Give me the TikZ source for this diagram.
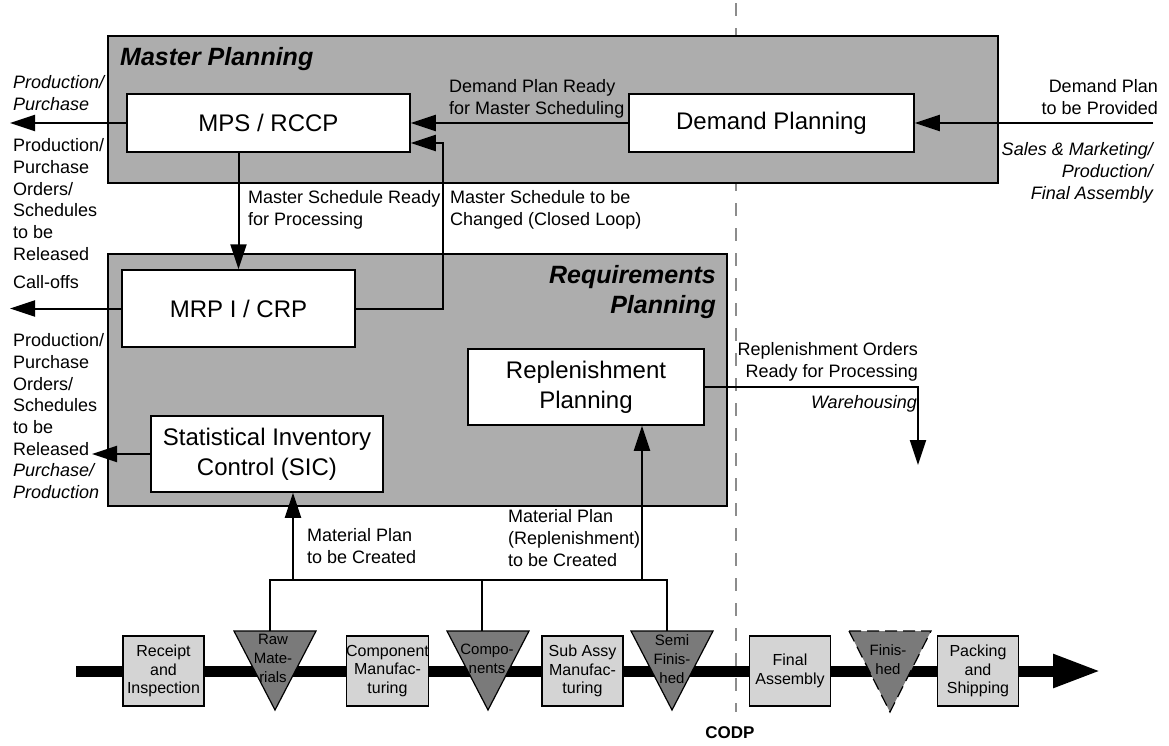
\documentclass[tikz,border=0pt]{standalone}
\usepackage{fontspec}
\setmainfont{Liberation Sans}
\usetikzlibrary{arrows.meta}

\tikzset{
  plan/.style={draw, line width=1.5pt, fill=black!32, inner sep=0pt, anchor=north west},
  func/.style={draw, line width=1.5pt, fill=white, inner sep=0pt, align=center,
    font=\fontsize{24}{30}\selectfont},
  lbl/.style={inner sep=0pt, align=left, anchor=north west, font=\fontsize{18}{21.7}\selectfont},
  rlbl/.style={inner sep=0pt, align=right, anchor=north east, font=\fontsize{18}{21.7}\selectfont},
  ttl/.style={inner sep=0pt, font=\fontsize{25}{30}\selectfont\bfseries\itshape},
  flow/.style={line width=2pt, -{Triangle[length=25pt,width=16pt]}},
  link/.style={line width=2pt},
  proc/.style={draw, line width=1.2pt, fill=black!17, inner sep=0pt,
    minimum width=81pt, minimum height=70pt, align=center,
    font=\fontsize{16}{18.5}\selectfont},
  stock/.style={draw, line width=1.2pt, fill=black!52},
  stocklbl/.style={inner sep=0pt, align=center, font=\fontsize{15}{19}\selectfont},
  codp/.style={draw=black!45, line width=2pt, dash pattern=on 13pt off 12pt},
}

\begin{document}
\begin{tikzpicture}[x=1pt, y=-1pt]
\useasboundingbox (0,0) rectangle (1169,745);
\fill[white] (0,0) rectangle (1169,745);

% customer order decoupling point
\coordinate (codpT) at (736,3);
\coordinate (codpB) at (736,712);
\draw[codp] (codpT) -- (codpB);
\node[inner sep=0pt, font=\fontsize{17}{20}\selectfont\bfseries] (codp) at (730,733) {CODP};

% planning areas
\node[plan, minimum width=890pt, minimum height=147pt] (mp) at (107,35) {};
\node[plan, minimum width=619pt, minimum height=252pt] (rp) at (107,253) {};
\node[ttl, anchor=north west] (mpt) at (120,47) {Master Planning};
\node[ttl, anchor=north east, align=right] (rpt) at (716,265) {Requirements\\Planning};

% planning functions
\node[func, minimum width=283pt, minimum height=58pt] (mps) at (268.5,123) {MPS / RCCP};
\node[func, minimum width=285pt, minimum height=58pt] (dem) at (771.5,123) {Demand Planning};
\node[func, minimum width=233pt, minimum height=77pt] (mrp) at (238.5,308.5) {MRP I / CRP};
\node[func, minimum width=232pt, minimum height=76pt] (sic) at (267,454) {Statistical Inventory\\Control (SIC)};
\node[func, minimum width=236pt, minimum height=76pt] (rep) at (586,387) {Replenishment\\Planning};

% helper points
\coordinate (outL) at (10,0);
\coordinate (sicout) at (92,0);
\coordinate (loopc) at (443,143);
\coordinate (dinput) at (1153,123);
\coordinate (whs) at (918,465);
\coordinate (busL) at (270,580);
\coordinate (busR) at (667,580);
\coordinate (sicfeed) at (293,580);
\coordinate (repfeed) at (642,580);
\coordinate (rawtop) at (270,631);
\coordinate (comptop) at (482,631);
\coordinate (semitop) at (667,631);

% information flows
\draw[flow] (dinput) -- (dem.east);
\draw[flow] (dem.west) -- (mps.east);
\draw[flow] (mps.west) -- (outL |- mps.west);
\draw[flow] (mrp.north |- mps.south) -- (mrp.north);
\draw[flow] (mrp.east) -| (loopc) -- (loopc -| mps.east);
\draw[flow] (mrp.west) -- (outL |- mrp.west);
\draw[flow] (sic.west) -- (sicout |- sic.west);
\draw[flow] (rep.east) -| (whs);
\draw[link] (rawtop) -- (busL) -- (busR) -- (semitop);
\draw[link] (comptop) -- (comptop |- busL);
\draw[flow] (sicfeed) -- (sicfeed |- sic.south);
\draw[flow] (repfeed) -- (repfeed |- rep.south);

% flow labels
\node[lbl] (l1) at (13,75.5) {\itshape Production/\\\itshape Purchase};
\node[lbl] (l2) at (13,138.5) {Production/\\Purchase\\Orders/\\Schedules\\to be\\Released};
\node[lbl] (l3) at (13,275.5) {Call-offs};
\node[lbl] (l4) at (13,333.5) {Production/\\Purchase\\Orders/\\Schedules\\to be\\Released\\{\itshape Purchase/}\\{\itshape Production}};
\node[lbl] (l5) at (248,190.5) {Master Schedule Ready\\for Processing};
\node[lbl] (l6) at (450,190.5) {Master Schedule to be\\Changed (Closed Loop)};
\node[lbl] (l7) at (449,79.5) {Demand Plan Ready\\for Master Scheduling};
\node[rlbl] (l8) at (1158,79.5) {Demand Plan\\to be Provided};
\node[rlbl] (l9) at (1153,142.5) {\itshape Sales \& Marketing/\\\itshape Production/\\\itshape Final Assembly};
\node[rlbl] (l10) at (918,342.5) {Replenishment Orders\\Ready for Processing};
\node[rlbl] (l11) at (917,395.5) {\itshape Warehousing};
\node[lbl] (l12) at (307,528.5) {Material Plan\\to be Created};
\node[lbl] (l13) at (508,509.5) {Material Plan\\(Replenishment)\\to be Created};

% physical material flow
\coordinate (barL) at (76,671);
\coordinate (barR) at (1101,671);
\draw[line width=11pt, -{Triangle[length=48pt,width=31pt]}] (barL) -- (barR);

\node[proc] (receipt) at (163.5,671) {Receipt\\and\\Inspection};
\node[proc] (compman) at (387.5,671) {Component\\Manufac-\\turing};
\node[proc] (subassy) at (582.5,671) {Sub Assy\\Manufac-\\turing};
\node[proc] (final) at (790,671) {Final\\Assembly};
\node[proc] (packing) at (978,671) {Packing\\and\\Shipping};

% stock points
\foreach \cx in {275,488,672}{
  \draw[stock] (\cx-41,631) -- (\cx+41,631) -- (\cx,710) -- cycle;
}
\draw[stock, dash pattern=on 12pt off 6pt] (849,631) -- (931,631) -- (890,712) -- cycle;
\node[stocklbl] (rawl) at (273,658) {Raw\\Mate-\\rials};
\node[stocklbl] (compl) at (487,658.5) {Compo-\\nents};
\node[stocklbl] (semil) at (672,659) {Semi\\Finis-\\hed};
\node[stocklbl] (finl) at (888,659.5) {Finis-\\hed};

\end{tikzpicture}
\end{document}
